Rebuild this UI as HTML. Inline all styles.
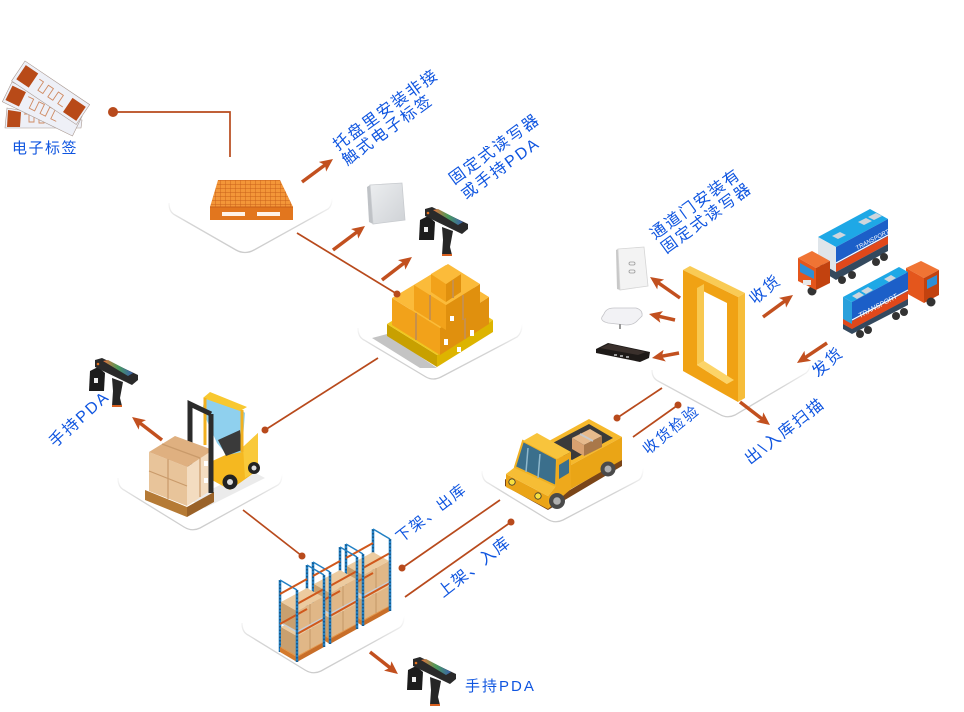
<!DOCTYPE html>
<html><head><meta charset="utf-8"><style>
html,body{margin:0;padding:0;background:#fff;}
svg{display:block;}
</style></head><body>
<svg width="964" height="712" viewBox="0 0 964 712" xmlns="http://www.w3.org/2000/svg" font-family='"Liberation Sans","Noto Sans CJK SC",sans-serif'>
<defs>
<marker id="ah" viewBox="0 0 13 12" refX="9" refY="6" markerWidth="13" markerHeight="12" markerUnits="userSpaceOnUse" orient="auto"><path d="M0,0 L13,6 L0,12 L3,6 z" fill="#c2501f"/></marker>
<linearGradient id="pf" x1="0" y1="0" x2="0" y2="1"><stop offset="0" stop-color="#d4d4d4" stop-opacity="0"/><stop offset="0.45" stop-color="#d0d0d0" stop-opacity="0.9"/><stop offset="1" stop-color="#cccccc"/></linearGradient>
<linearGradient id="scr" x1="0" y1="0" x2="1" y2="0"><stop offset="0" stop-color="#e8703a"/><stop offset="0.5" stop-color="#4a9a5a"/><stop offset="1" stop-color="#3a60b0"/></linearGradient>
<linearGradient id="rd" x1="0" y1="0" x2="1" y2="1"><stop offset="0" stop-color="#eceef0"/><stop offset="1" stop-color="#cfd2d6"/></linearGradient>
<pattern id="grid" width="5" height="4" patternUnits="userSpaceOnUse"><rect width="5" height="4" fill="#f39638"/><path d="M0,0H5M0,0V4" stroke="#c8601a" stroke-width="0.9"/></pattern>
<g id="pda">
 <polygon points="3,13 11,9 18,15 17,33 2,33" fill="#1c1c1c"/>
 <rect x="7" y="20" width="4" height="5" fill="#eeeeee"/>
 <polygon points="25,20 36,24 33,40 35,48 25,48 26,33" fill="#262626"/>
 <rect x="25" y="47" width="10" height="2" fill="#d86020"/>
 <polygon points="8,2 15,0 51,17 51,22 45,27 8,9" fill="#2a2a2a"/>
 <polygon points="16,3 21,2 46,15 41,18" fill="url(#scr)"/>
 <circle cx="11" cy="6" r="1.3" fill="#e07020"/>
</g>
<g id="shelf">
 <g stroke="#2280c4" stroke-width="2.6"><line x1="0" y1="0" x2="0" y2="-72"/><line x1="27" y1="-15" x2="27" y2="-87"/></g>
 <g stroke="#0d2f4f" stroke-width="0.9" stroke-dasharray="1.5 2"><line x1="0" y1="0" x2="0" y2="-72"/><line x1="27" y1="-15" x2="27" y2="-87"/></g>
 <line x1="0" y1="-72" x2="17" y2="-62" stroke="#2280c4" stroke-width="1.5"/>
 <line x1="27" y1="-87" x2="44" y2="-77" stroke="#2280c4" stroke-width="1.5"/>
 <polygon points="0,-5 17,5 44,-10 27,-20" fill="#e8923a"/>
 <polygon points="0,0 17,10 17,5 0,-5" fill="#d47a2c"/>
 <polygon points="17,10 44,-5 44,-10 17,5" fill="#c86e28"/>
 <polygon points="1,-5 17,4 17,-16 1,-25" fill="#c9a06f"/>
 <polygon points="17,4 43,-10 43,-30 17,-16" fill="#e0b787"/>
 <polygon points="1,-25 17,-16 43,-30 27,-39" fill="#eccba0"/>
 <line x1="30" y1="-3" x2="30" y2="-23" stroke="#b88a5a" stroke-width="0.7"/>
 <polygon points="0,-29 17,-19 44,-34 27,-44" fill="#c9ced4"/>
 <polygon points="1,-30 17,-21 17,-41 1,-50" fill="#c9a06f"/>
 <polygon points="17,-21 43,-35 43,-55 17,-41" fill="#e0b787"/>
 <polygon points="1,-50 17,-41 43,-55 27,-64" fill="#eccba0"/>
 <line x1="30" y1="-28" x2="30" y2="-48" stroke="#b88a5a" stroke-width="0.7"/>
 <g stroke="#d0581c" stroke-width="2">
  <line x1="0" y1="-28" x2="27" y2="-43"/><line x1="0" y1="-58" x2="27" y2="-73"/>
  <line x1="17" y1="-18" x2="44" y2="-33"/><line x1="17" y1="-48" x2="44" y2="-63"/>
 </g>
 <g stroke="#2280c4" stroke-width="2.6"><line x1="17" y1="10" x2="17" y2="-62"/><line x1="44" y1="-5" x2="44" y2="-77"/></g>
 <g stroke="#0d2f4f" stroke-width="0.9" stroke-dasharray="1.5 2"><line x1="17" y1="10" x2="17" y2="-62"/><line x1="44" y1="-5" x2="44" y2="-77"/></g>
</g>
</defs>

<rect width="964" height="712" fill="#ffffff"/>

<!-- platforms -->
<g fill="none" stroke="url(#pf)" stroke-width="1.3">
<path d="M169,203 Q169,212 175,215 L236,250 Q245,255 254,250 L328,209 Q332,206 332,198"/>
<path d="M358,328 Q358,337 364,340 L426,377 Q433,381 441,377 L517,337 Q522,333 522,324"/>
<path d="M118,478 Q118,487 124,490 L184,527 Q192,532 200,528 L278,485 Q282,482 282,474"/>
<path d="M242,623 Q242,632 248,635 L305,670 Q313,675 321,671 L399,628 Q404,625 404,616"/>
<path d="M482,471 Q482,480 488,483 L547,519 Q555,524 563,520 L639,480 Q643,477 643,468"/>
<path d="M652,370 Q652,378 658,381 L719,414 Q727,419 735,415 L806,373 Q810,370 810,363"/>
</g>

<!-- RFID tags -->
<g>
 <polygon points="7,108 82,120 81,128 5,128" fill="#eef0f7" stroke="#a89890" stroke-width="0.6"/>
 <polygon points="8,110 21,112 20,127 7,127" fill="#b84a18"/>
 <path d="M24,114 h5 v8 h5 v-7 h5 v8 h5 v-7 h5 v8" fill="none" stroke="#cf8a62" stroke-width="0.9"/>
 <g transform="translate(12,82) rotate(26)">
  <rect x="0" y="0" width="78" height="22" fill="#eef0f7" stroke="#a89890" stroke-width="0.6"/>
  <rect x="2" y="3" width="15" height="16" fill="#b84a18"/>
  <path d="M21,6 h6 v10 h6 v-10 h6 v10 h6 v-10 h6 v10 h6" fill="none" stroke="#cf8a62" stroke-width="0.9"/>
 </g>
 <g transform="translate(25,61) rotate(34)">
  <rect x="0" y="0" width="78" height="24" fill="#eef0f7" stroke="#a89890" stroke-width="0.6"/>
  <rect x="3" y="3" width="15" height="17" fill="#b84a18"/>
  <rect x="60" y="4" width="16" height="17" fill="#b84a18"/>
  <path d="M22,7 h5 v10 h6 v-10 h6 v10 h6 v-10 h6 v10 h6" fill="none" stroke="#cf8a62" stroke-width="0.9"/>
 </g>
</g>

<!-- orange plastic pallet -->
<polygon points="218,180 280,180 293,207 210,207" fill="url(#grid)"/>
<rect x="210" y="207" width="83" height="13" fill="#e2761e"/>
<rect x="222" y="212" width="23" height="4" fill="#fff3e8"/>
<rect x="257" y="212" width="23" height="4" fill="#fff3e8"/>
<line x1="210" y1="207" x2="293" y2="207" stroke="#c8601a" stroke-width="1"/>

<!-- fixed reader top -->
<polygon points="367,187 370,185 373,224 369,222" fill="#bfc2c6"/>
<polygon points="370,185 402,183 405,220 373,224" fill="url(#rd)" stroke="#c8cbcf" stroke-width="0.8"/>

<!-- box pile -->
<polygon points="372,338 420,368 437,368 387,334" fill="#c4c4c4"/>
<polygon points="387,336 437,367 437,355 387,324" fill="#c8a000"/>
<polygon points="437,367 493,332 493,320 437,355" fill="#ddb400"/>
<polygon points="437,355 493,320 443,289 387,324" fill="#f0c81e"/>
<polygon points="392,325 440,355 440,328 392,298" fill="#f2a21a"/>
<polygon points="440,355 489,324 489,297 440,328" fill="#e0900e"/>
<polygon points="440,328 489,297 442,268 392,298" fill="#fbbb3a"/>
<line x1="416" y1="340" x2="416" y2="313" stroke="#c8904a" stroke-width="2"/>
<line x1="465" y1="339" x2="465" y2="312" stroke="#c8904a" stroke-width="2"/>
<polygon points="414,310 446,330 446,305 414,285" fill="#f2a21a"/>
<polygon points="446,330 480,309 480,284 446,305" fill="#e0900e"/>
<polygon points="446,305 480,284 448,264 414,285" fill="#fbbb3a"/>
<line x1="430" y1="320" x2="430" y2="295" stroke="#c8904a" stroke-width="2"/>
<line x1="463" y1="320" x2="463" y2="295" stroke="#c8904a" stroke-width="2"/>
<polygon points="431,292 446,302 446,284 431,274" fill="#f2a21a"/>
<polygon points="446,302 461,292 461,274 446,284" fill="#e0900e"/>
<polygon points="446,284 461,274 446,265 431,274" fill="#fbbb3a"/>
<line x1="453" y1="298" x2="453" y2="280" stroke="#c8904a" stroke-width="2"/>
<g fill="#ffffff"><rect x="444" y="339" width="4" height="6"/><rect x="470" y="330" width="4" height="6"/><rect x="450" y="316" width="4" height="5"/><rect x="457" y="347" width="4" height="5"/></g>

<!-- PDAs -->
<use href="#pda" transform="translate(417,207)"/>
<use href="#pda" transform="translate(87,358)"/>
<use href="#pda" transform="translate(405,657)"/>

<!-- forklift -->
<polygon points="190,500 250,470 265,478 205,508" fill="#ebebeb"/>
<polygon points="208,463 243,447 258,433 258,470 230,490 212,480" fill="#f5b820"/>
<polygon points="243,447 258,433 258,470 245,478" fill="#f9c93a"/>
<polygon points="202,410 205,398 240,408 245,413 242,452 227,455 217,443" fill="#8fd0ee"/>
<polygon points="218,440 240,430 242,450 226,456" fill="#3a3a3a"/>
<polygon points="203,398 210,392 247,407 240,411" fill="#f8c830"/>
<line x1="205" y1="398" x2="205" y2="445" stroke="#f2b020" stroke-width="3"/>
<line x1="242" y1="410" x2="242" y2="452" stroke="#f2b020" stroke-width="3"/>
<circle cx="230" cy="482" r="7.5" fill="#222"/><circle cx="230" cy="482" r="3" fill="#ddd"/>
<circle cx="254" cy="468" r="6" fill="#222"/><circle cx="254" cy="468" r="2.5" fill="#ddd"/>
<polyline points="190,490 190,404 211,414" fill="none" stroke="#2b2b2b" stroke-width="5"/>
<polygon points="145,490 187,507 187,517 145,500" fill="#b57a35"/>
<polygon points="187,507 214,492 214,502 187,517" fill="#9a6228"/>
<polygon points="149,452 187,467 187,506 149,491" fill="#e8c49a"/>
<polygon points="187,467 213,450 213,489 187,506" fill="#f3dcc0"/>
<polygon points="149,452 175,436 213,450 187,467" fill="#dfb080"/>
<g stroke="#c99a6a" stroke-width="1.2"><line x1="168" y1="459" x2="168" y2="499"/><line x1="149" y1="471" x2="187" y2="486"/><line x1="200" y1="458" x2="200" y2="497"/><line x1="162" y1="444" x2="200" y2="458"/></g>
<g fill="#fff"><rect x="204" y="461" width="4" height="5"/><rect x="204" y="478" width="4" height="5"/></g>
<line x1="211" y1="414" x2="211" y2="493" stroke="#2b2b2b" stroke-width="5"/>

<!-- shelves -->
<use href="#shelf" transform="translate(346,616)"/>
<use href="#shelf" transform="translate(313,634)"/>
<use href="#shelf" transform="translate(280,652)"/>

<!-- pickup truck -->
<polygon points="505,486 548,510 622,466 622,459 548,503 505,479" fill="#7a4518"/>
<polygon points="538,447 589,419 622,437 571,465" fill="#f6b92c"/>
<polygon points="545,447 589,424 613,438 572,460" fill="#3a3a3a"/>
<polygon points="572,438 590,429 602,436 584,445" fill="#e6ba8c"/>
<polygon points="572,438 584,445 584,456 572,449" fill="#d8a170"/>
<polygon points="584,445 602,436 602,447 584,456" fill="#a9784a"/>
<line x1="580" y1="434" x2="593" y2="441" stroke="#c9c9c9" stroke-width="2"/>
<polygon points="571,465 622,437 622,460 571,489" fill="#eaa516"/>
<circle cx="608" cy="469" r="7.5" fill="#4a4a4a"/><circle cx="608" cy="469" r="3.5" fill="#b0b0b0"/>
<polygon points="506,474 548,496 548,509 506,487" fill="#eaa417"/>
<polygon points="506,474 515,467 556,486 548,496" fill="#f6bd35"/>
<polygon points="515,467 523,441 557,459 556,486" fill="#3b6f8c" stroke="#f0b022" stroke-width="2"/>
<g stroke="#8fb8cc" stroke-width="1.5"><line x1="528" y1="448" x2="526" y2="472"/><line x1="540" y1="454" x2="538" y2="478"/></g>
<polygon points="523,441 537,433 571,452 557,459" fill="#f8c43c"/>
<polygon points="548,509 548,496 556,486 557,459 571,452 571,489" fill="#eea91c"/>
<polygon points="559,465 569,459 569,473 559,479" fill="#3b6f8c"/>
<circle cx="512" cy="482" r="3.2" fill="#f8e040" stroke="#333" stroke-width="0.8"/>
<circle cx="538" cy="496" r="3.2" fill="#f8e040" stroke="#333" stroke-width="0.8"/>
<circle cx="557" cy="501" r="8" fill="#4a4a4a"/><circle cx="557" cy="501" r="3.8" fill="#b0b0b0"/>

<!-- gate readers -->
<polygon points="616,250 618,249 620,290 617,289" fill="#c8c8c8"/>
<polygon points="618,249 644,247 648,286 620,290" fill="#f3f3f3" stroke="#d5d5d5" stroke-width="0.8"/>
<rect x="629" y="262" width="6" height="3" rx="1.5" fill="none" stroke="#999" stroke-width="0.8"/>
<rect x="629" y="270" width="6" height="3" rx="1.5" fill="none" stroke="#999" stroke-width="0.8"/>
<path d="M604,314 Q606,308 614,308 L636,308 Q643,310 642,316 L638,320 Q634,325 626,325 L608,323 Q600,321 602,317 Z" fill="#f2f2f5" stroke="#c4c4c8" stroke-width="0.8"/>
<rect x="619" y="324" width="2" height="5" fill="#999"/>
<polygon points="596,349 608,343 650,352 649,358 640,362 596,353" fill="#1e1a18"/>
<polygon points="600,348 609,344 646,352 638,355" fill="#3a302c"/>
<g fill="#9a9a9a"><rect x="614" y="354" width="3" height="2"/><rect x="620" y="355" width="3" height="2"/><rect x="626" y="356" width="3" height="2"/></g>

<!-- gate frame -->
<polygon points="683,270 690,266 745,293 738,297" fill="#f9cb55"/>
<polygon points="738,297 745,293 745,398 738,402" fill="#f6bd3a"/>
<path d="M683,270 L738,297 L738,402 L683,371 Z M697,288 L697,365 L727,384 L727,303 Z" fill="#f0a214" fill-rule="evenodd"/>
<polygon points="697,288 704,284 704,361 697,365" fill="#f8c850"/>
<polygon points="697,365 704,361 734,380 727,384" fill="#fcd468"/>

<!-- trucks -->
<polygon points="820,262 836,272 888,244 888,251 836,280 820,270" fill="#34495e"/>
<g fill="#333"><circle cx="842" cy="280" r="4"/><circle cx="852" cy="275" r="4"/><circle cx="876" cy="262" r="4"/><circle cx="884" cy="257" r="4"/><circle cx="812" cy="291" r="4.5"/></g>
<polygon points="818,237 836,247 888,219 870,209" fill="#1ea8e6"/>
<polygon points="836,247 888,219 888,244 836,272" fill="#1c5fc8"/>
<polygon points="836,264 888,236 888,244 836,272" fill="#e0481a"/>
<line x1="836" y1="263" x2="888" y2="235" stroke="#fff" stroke-width="1.2"/>
<polygon points="818,237 836,247 836,272 818,262" fill="#dfe5ea"/>
<g fill="#cfd6dd"><polygon points="832,236 840,232 846,235 838,239"/><polygon points="858,222 866,218 872,221 864,225"/><polygon points="868,217 876,213 882,216 874,220"/></g>
<text transform="translate(857,250) rotate(-28)" font-size="6" font-style="italic" fill="#ffffff">TRANSPORT</text>
<polygon points="798,258 812,251 830,261 816,268" fill="#f07434"/>
<polygon points="798,258 816,268 816,290 798,281" fill="#e4561c"/>
<polygon points="816,268 830,261 830,283 816,290" fill="#c2420f"/>
<polygon points="800,263 814,271 814,279 800,272" fill="#2d8fd6"/>
<rect x="803" y="280" width="8" height="5" fill="#e8e8e8"/>

<polygon points="906,268 921,261 939,270 924,278" fill="#f07434"/>
<polygon points="906,268 924,278 924,303 906,293" fill="#e4561c"/>
<polygon points="924,278 939,270 939,295 924,303" fill="#c2420f"/>
<polygon points="927,280 937,275 937,284 927,289" fill="#2d8fd6"/>
<polygon points="843,322 852,327 908,298 908,305 852,334 843,329" fill="#34495e"/>
<g fill="#333"><circle cx="860" cy="334" r="4"/><circle cx="868" cy="330" r="4"/><circle cx="896" cy="316" r="4"/><circle cx="904" cy="312" r="4"/><circle cx="931" cy="302" r="4.5"/></g>
<polygon points="843,297 852,302 908,272 899,267" fill="#1ea8e6"/>
<polygon points="852,302 908,272 908,299 852,329" fill="#1c5fc8"/>
<polygon points="852,321 908,291 908,299 852,329" fill="#e0481a"/>
<line x1="852" y1="320" x2="908" y2="290" stroke="#fff" stroke-width="1.2"/>
<polygon points="843,297 852,302 852,329 843,324" fill="#2aa0dc"/>
<polygon points="843,319 852,324 852,329 843,324" fill="#e0481a"/>
<g fill="#cfd6dd"><polygon points="852,296 859,292 864,295 857,299"/><polygon points="861,291 868,287 873,290 866,294"/><polygon points="884,279 891,275 896,278 889,282"/></g>
<text transform="translate(860,318) rotate(-28)" font-size="7" font-style="italic" fill="#ffffff">TRANSPORT</text>

<!-- dotted connector lines -->
<g stroke="#b84a1c" stroke-width="1.7" fill="none">
<polyline points="113,112 230,112 230,157"/>
<line x1="297" y1="233" x2="397" y2="294"/>
<line x1="378" y1="358" x2="265" y2="430"/>
<line x1="243" y1="510" x2="302" y2="556"/>
<line x1="402" y1="568" x2="500" y2="500"/>
<line x1="405" y1="597" x2="511" y2="522"/>
<line x1="662" y1="388" x2="617" y2="418"/>
<line x1="678" y1="405" x2="633" y2="437"/>
</g>
<g fill="#b84a1c">
<circle cx="113" cy="112" r="5"/>
<circle cx="397" cy="294" r="3.5"/>
<circle cx="265" cy="430" r="3.5"/>
<circle cx="302" cy="556" r="3.5"/>
<circle cx="402" cy="568" r="3.5"/>
<circle cx="511" cy="522" r="3.5"/>
<circle cx="617" cy="418" r="3.5"/>
<circle cx="678" cy="405" r="3.5"/>
</g>

<!-- arrows -->
<g stroke="#c2501f" stroke-width="3.5" marker-end="url(#ah)">
<line x1="302" y1="182" x2="329.8" y2="161.4"/>
<line x1="333" y1="250" x2="361.8" y2="228.4"/>
<line x1="382" y1="280" x2="408.8" y2="259.4"/>
<line x1="162" y1="440" x2="135.2" y2="419.4"/>
<line x1="370" y1="652" x2="394.8" y2="671.5"/>
<line x1="680" y1="298" x2="653.3" y2="279.3"/>
<line x1="675" y1="320" x2="652.9" y2="314.9"/>
<line x1="679" y1="353" x2="655.9" y2="357.3"/>
<line x1="740" y1="402" x2="766.8" y2="422.6"/>
<line x1="763" y1="317" x2="789.8" y2="297.4"/>
<line x1="827" y1="343" x2="800.3" y2="360.8"/>
</g>

<!-- labels -->
<g fill="#0f55e0" font-size="16" letter-spacing="2">
<text x="12" y="153" font-size="15" letter-spacing="1.5">电子标签</text>
<text transform="translate(338,151) rotate(-36)">托盘里安装非接</text>
<text transform="translate(347,166) rotate(-36)">触式电子标签</text>
<text transform="translate(454,185) rotate(-36)">固定式读写器</text>
<text transform="translate(466,200) rotate(-36)">或手持PDA</text>
<text transform="translate(655,240) rotate(-36)">通道门安装有</text>
<text transform="translate(666,254) rotate(-36)">固定式读写器</text>
<text transform="translate(755,305) rotate(-40)">收货</text>
<text transform="translate(818,378) rotate(-42)">发货</text>
<text transform="translate(750,465) rotate(-38)">出\入库扫描</text>
<text transform="translate(648,455) rotate(-39)" font-size="15">收货检验</text>
<text transform="translate(401,543) rotate(-38)" font-size="15">下架、出库</text>
<text transform="translate(443,598) rotate(-38)" letter-spacing="1.5">上架、入库</text>
<text transform="translate(55,448) rotate(-42)">手持PDA</text>
<text x="465" y="691" font-size="15">手持PDA</text>
</g>
</svg>
</body></html>
